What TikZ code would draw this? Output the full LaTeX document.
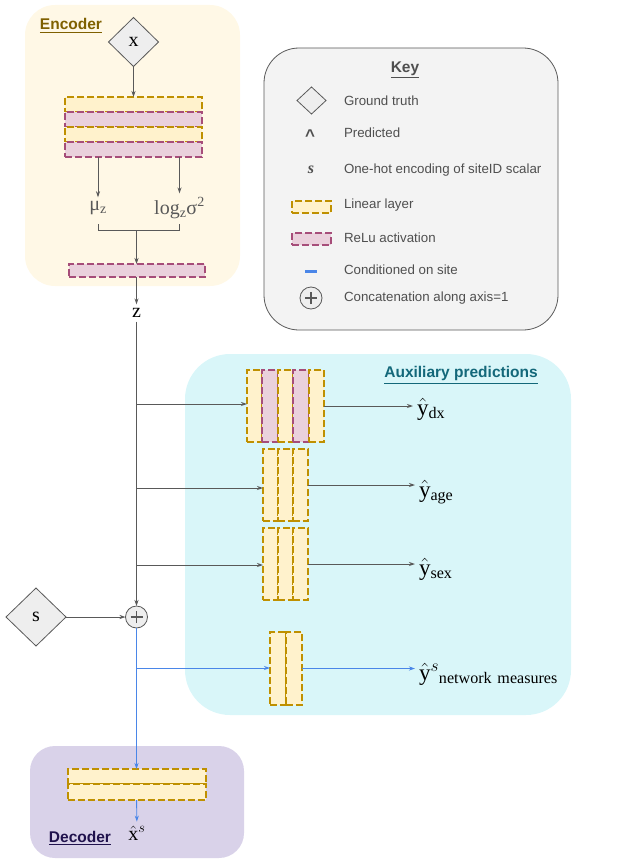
\documentclass[tikz,border=0pt]{standalone}
\usepackage{amsmath,amssymb}
\usepackage{fontspec}
\setmainfont{Liberation Serif}
\newfontfamily\keyfont{Liberation Sans}
\usetikzlibrary{
	shapes,
	calc,
	arrows.meta}

\definecolor{linfill}{HTML}{FFF2CC}
\definecolor{lindraw}{HTML}{BF9000}
\definecolor{relfill}{HTML}{EAD1DC}
\definecolor{reldraw}{HTML}{A64D79}
\definecolor{encfill}{HTML}{FFF8E6}
\definecolor{auxfill}{HTML}{D9F6F9}
\definecolor{decfill}{HTML}{D9D2E9}
\definecolor{keyfill}{HTML}{F3F3F3}
\definecolor{truthfill}{HTML}{EEEEEE}
\definecolor{arrowgray}{HTML}{595959}
\definecolor{keygray}{HTML}{4F4F4F}
\definecolor{siteblue}{HTML}{4A86E8}
\definecolor{encbrown}{HTML}{7F6000}
\definecolor{auxteal}{HTML}{13687A}
\definecolor{decpurple}{HTML}{20124D}

\begin{document}
\begin{tikzpicture}[x=1pt,y=-1pt,>={Stealth[length=6pt,width=4pt]},
    every node/.style={inner sep=0pt,outer sep=0pt},
    lin/.style={rectangle,draw=lindraw,fill=linfill,line width=2pt,dash pattern=on 7pt off 3pt},
    relu/.style={rectangle,draw=reldraw,fill=relfill,line width=2pt,dash pattern=on 7pt off 3pt},
    truth/.style={diamond,draw=arrowgray,fill=truthfill,line width=0.8pt},
    plusnode/.style={circle,draw=arrowgray,fill=truthfill,line width=0.8pt,minimum size=22pt,
      path picture={\draw[arrowgray,line width=1.2pt]
        ([xshift=-6pt]path picture bounding box.center) -- ([xshift=6pt]path picture bounding box.center)
        ([yshift=-6pt]path picture bounding box.center) -- ([yshift=6pt]path picture bounding box.center);}},
    lab/.style={inner sep=4pt,font=\fontsize{20}{22}\selectfont},
    pred/.style={inner sep=4pt,anchor=west,font=\fontsize{23}{25}\selectfont},
    keytxt/.style={anchor=west,text=keygray,font=\keyfont\fontsize{13.3}{15}\selectfont},
    title/.style={font=\keyfont\bfseries\fontsize{15.5}{17}\selectfont},
    arr/.style={->,draw=arrowgray,line width=0.9pt},
    carr/.style={->,draw=siteblue,line width=0.9pt}]
  \useasboundingbox (0,0) rectangle (624,864);

    % Panels
  \fill[encfill,rounded corners=30pt] (25,5) rectangle (240,286);
  \filldraw[fill=keyfill,draw=arrowgray,line width=0.8pt,rounded corners=35pt] (264,48) rectangle (558,330);
  \fill[auxfill,rounded corners=45pt] (185,354) rectangle (571,715);
  \fill[decfill,rounded corners=25pt] (30,746) rectangle (244,858);

  \node[title,text=encbrown] (Enc) at (71,26) {\underline{Encoder}};
  \node[title,text=keygray] (Key) at (405,70) {\underline{Key}};
  \node[title,text=auxteal] (Aux) at (461,375) {\underline{Auxiliary predictions}};
  \node[title,text=decpurple] (Dec) at (80,838) {\underline{Decoder}};

    % Encoder
  \node[truth,lab,minimum width=50pt,minimum height=49pt] (X) at (133.5,42) {x};
  \node[lin,minimum width=137pt,minimum height=15pt] (E1) at (133.5,104.5) {};
  \node[relu,minimum width=137pt,minimum height=15pt] (E2) at (133.5,119.5) {};
  \node[lin,minimum width=137pt,minimum height=15pt] (E3) at (133.5,134.5) {};
  \node[relu,minimum width=137pt,minimum height=15pt] (E4) at (133.5,149.5) {};
  \node[lab,text=arrowgray] (Mu) at (98,208) {μ\textsubscript{z}};
  \node[lab,text=arrowgray] (Log) at (179.5,208) {log\textsubscript{z}σ\textsuperscript{2}};
  \coordinate (Jt) at (136.5,224);
  \coordinate (J) at (136.5,230);
  \node[relu,minimum width=136pt,minimum height=13pt] (R1) at (136.5,270.5) {};
  \node[lab] (Z) at (136.5,313) {z};

    % Auxiliary heads
  \node[lin,minimum width=15.4pt,minimum height=72pt] (D1) at (254.7,406) {};
  \node[relu,minimum width=15.4pt,minimum height=72pt] (D2) at (270.1,406) {};
  \node[lin,minimum width=15.4pt,minimum height=72pt] (D3) at (285.5,406) {};
  \node[relu,minimum width=15.4pt,minimum height=72pt] (D4) at (300.9,406) {};
  \node[lin,minimum width=15.4pt,minimum height=72pt] (D5) at (316.3,406) {};
  \node[lin,minimum width=15pt,minimum height=72pt] (A1) at (270.5,485) {};
  \node[lin,minimum width=15pt,minimum height=72pt] (A2) at (285.5,485) {};
  \node[lin,minimum width=15pt,minimum height=72pt] (A3) at (300.5,485) {};
  \node[lin,minimum width=15pt,minimum height=72pt] (S1) at (270.5,564) {};
  \node[lin,minimum width=15pt,minimum height=72pt] (S2) at (285.5,564) {};
  \node[lin,minimum width=15pt,minimum height=72pt] (S3) at (300.5,564) {};
  \node[lin,minimum width=16pt,minimum height=73pt] (N1) at (278,668.5) {};
  \node[lin,minimum width=16pt,minimum height=73pt] (N2) at (294,668.5) {};

  \node[pred] (Ydx) at (413,409) {$\hat{\mathrm{y}}_{\mathrm{dx}}$};
  \node[pred] (Yage) at (415,492) {$\hat{\mathrm{y}}_{\mathrm{age}}$};
  \node[pred] (Ysex) at (415,569) {$\hat{\mathrm{y}}_{\mathrm{sex}}$};
  \node[pred] (Ynet) at (415,674) {$\hat{\mathrm{y}}^{s}{}_{\mathrm{network\ measures}}$};

  \coordinate (B1) at (136.5,404);
  \coordinate (B2) at (136.5,488);
  \coordinate (B3) at (136.5,565);
  \coordinate (B4) at (136.5,668);

    % Site and decoder
  \node[truth,lab,minimum width=60pt,minimum height=58pt] (Site) at (36,617) {s};
  \node[plusnode] (P) at (136.5,617) {};
  \node[lin,minimum width=138pt,minimum height=15pt] (G1) at (136.5,776.5) {};
  \node[lin,minimum width=138pt,minimum height=16pt] (G2) at (136.5,792) {};
  \node[lab] (Xs) at (137,833) {$\hat{\mathrm{x}}^{s}$};

    % Key
  \node[truth,minimum width=29pt,minimum height=27pt] (K1) at (311.5,100.5) {};
  \node[text=keygray,font=\keyfont\bfseries\fontsize{17}{17}\selectfont] (K2) at (310,136) {\textasciicircum};
  \node[text=keygray,font=\bfseries\itshape\fontsize{16}{16}\selectfont] (K3) at (311,170) {s};
  \node[lin,minimum width=39pt,minimum height=12pt] (K4) at (311.5,207) {};
  \node[relu,minimum width=39pt,minimum height=12pt] (K5) at (311.5,239) {};
  \node[fill=siteblue,minimum width=12pt,minimum height=3pt] (K6) at (311,271) {};
  \node[plusnode] (K7) at (311,298) {};
  \node[keytxt] (T1) at (344,101) {Ground truth};
  \node[keytxt] (T2) at (344,133) {Predicted};
  \node[keytxt] (T3) at (344,170) {One-hot encoding of siteID scalar};
  \node[keytxt] (T4) at (344,205) {Linear layer};
  \node[keytxt] (T5) at (344,238) {ReLu activation};
  \node[keytxt] (T6) at (344,270) {Conditioned on site};
  \node[keytxt] (T7) at (344,298) {Concatenation along axis=1};

  \draw [arr] (X)      to (E1);
  \draw [arr] (E4.south -| Mu) to (Mu);
  \draw [arr] (E4.south -| Log) to (Log);
  \draw [draw=arrowgray,line width=0.9pt] (Mu |- Jt) -- (Mu |- J) -- (Log |- J) -- (Log |- Jt);
  \draw [arr] (J)      to (R1);
  \draw [arr] (R1)     to (Z);
  \draw [arr] (Z)      to (P);
  \draw [arr] (B1)     to (B1 -| D1.west);
  \draw [arr] (B2)     to (B2 -| A1.west);
  \draw [arr] (B3)     to (B3 -| S1.west);
  \draw [arr] (D5.east) to (D5.east -| Ydx.west);
  \draw [arr] (A3.east) to (A3.east -| Yage.west);
  \draw [arr] (S3.east) to (S3.east -| Ysex.west);
  \draw [arr] (Site)   to (P);
  \draw [carr] (P)     to (G1);
  \draw [carr] (B4)    to (B4 -| N1.west);
  \draw [carr] (N2.east) to (N2.east -| Ynet.west);
  \draw [carr] (G2)    to (Xs);

\end{tikzpicture}
\end{document}
